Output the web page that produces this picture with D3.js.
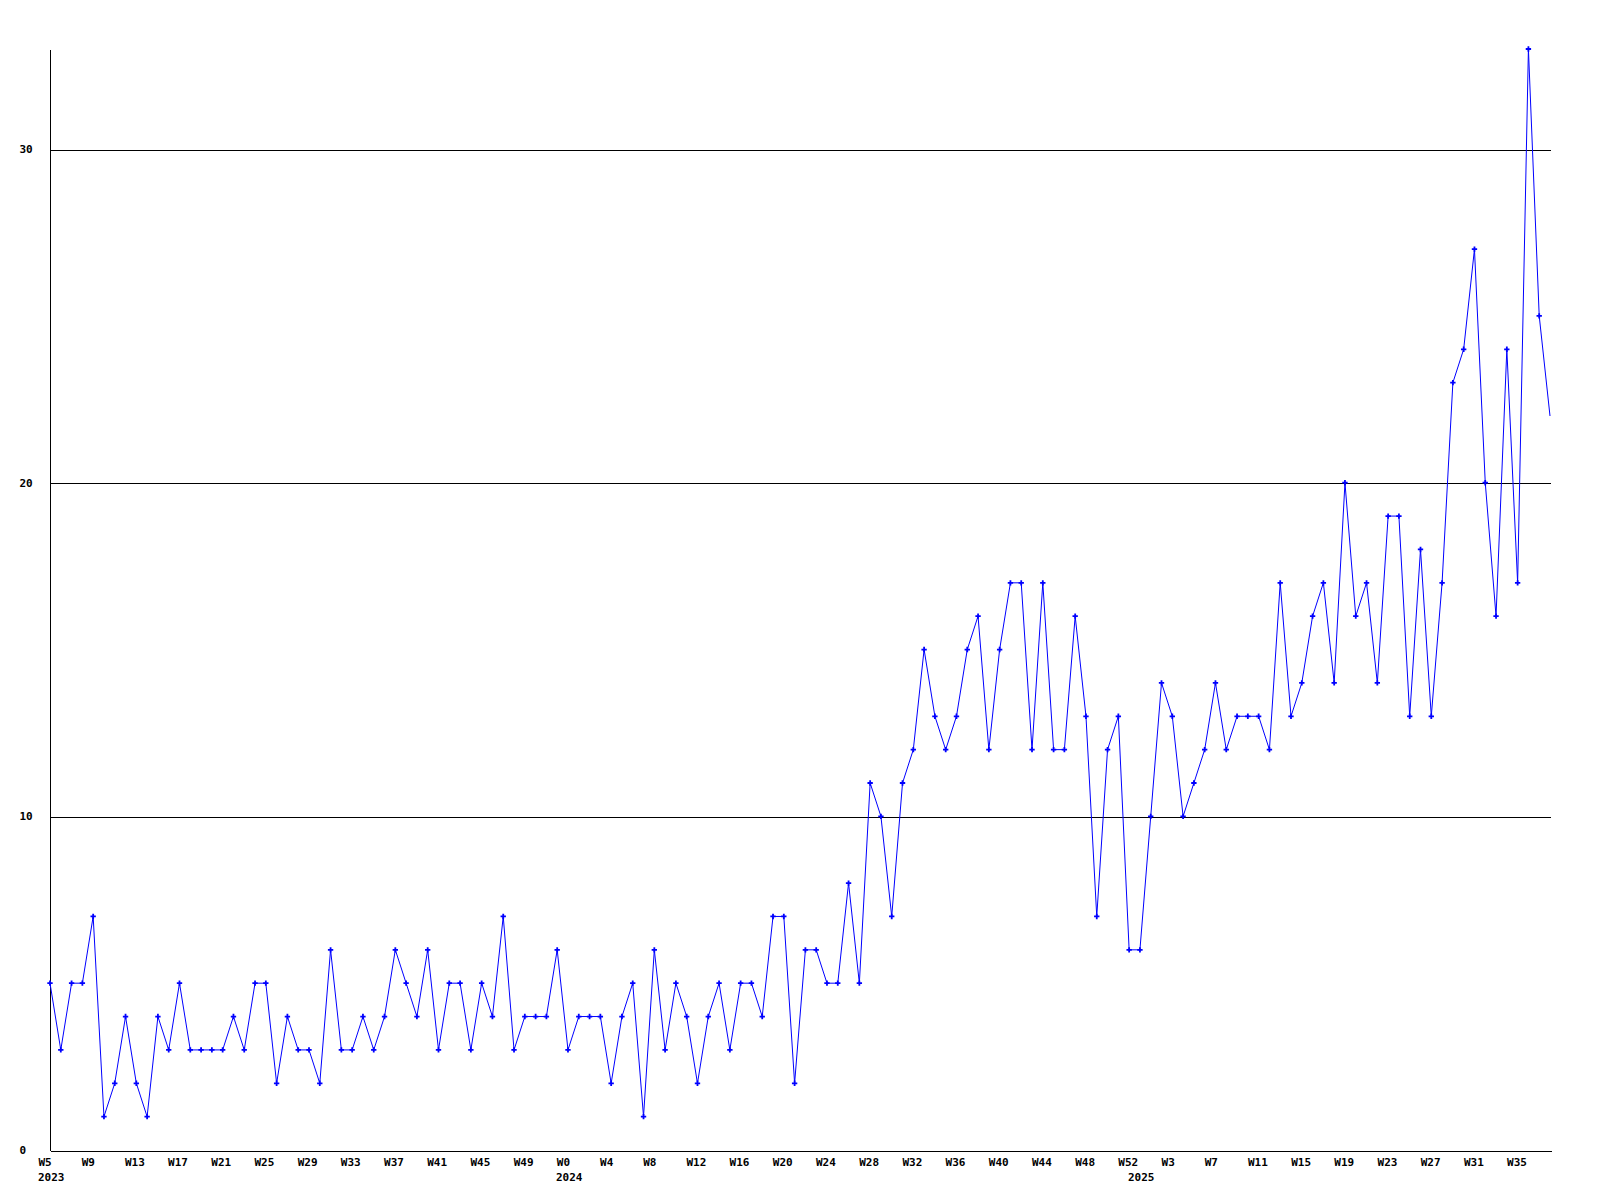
<!DOCTYPE html>
<html>
<head>
<meta charset="utf-8">
<script src="https://cdn.jsdelivr.net/npm/d3@7"></script>
<style>
body { margin: 0; background: #fff; }
svg text { font-family: "DejaVu Sans Mono", monospace; font-weight: bold; font-size: 11px; fill: #000; }
</style>
</head>
<body>
<svg width="1600" height="1200"></svg>
<script>
// week numbers for each year shown on the chart
var years = [2023, 2024, 2025];
var weeks2023 = d3.range(5, 53);
var weeks2024 = d3.range(0, 53);
var weeks2025 = d3.range(0, 39);

// weekly counts
var counts2023 = [5, 3, 5, 5, 7, 1, 2, 4, 2, 1, 4, 3, 5, 3, 3, 3, 3, 4, 3, 5, 5, 2, 4, 3, 3, 2, 6, 3, 3, 4, 3, 4, 6, 5, 4, 6, 3,
                  5, 5, 3, 5, 4, 7, 3, 4, 4, 4, 6];
var counts2024 = [3, 4, 4, 4, 2, 4, 5, 1, 6, 3, 5, 4, 2, 4, 5, 3, 5, 5, 4, 7, 7, 2, 6, 6,
                  5, 5, 8, 5, 11, 10, 7, 11, 12, 15, 13, 12, 13, 15, 16, 12, 15, 17, 17, 12, 17, 12, 12, 16, 13, 7, 12, 13,
                  6];
var counts2025 = [6, 10, 14, 13, 10, 11, 12, 14, 12, 13, 13, 13, 12, 17, 13,
                  14, 16, 17, 14, 20, 16, 17, 14, 19, 19, 13, 18, 13, 17, 23, 24, 27, 20, 16, 24, 17, 33, 25, 22];

var yTicks = [0, 10, 20, 30];
var gridTicks = [10, 20, 30];

var svg = d3.select("svg");
var plotLeft = 50, plotRight = 1550, plotTop = 49, plotBottom = 1150;

// flatten into one list of points
var data = [];
var yearStart = [];
[weeks2023, weeks2024, weeks2025].forEach(function (weeks, k) {
    var counts = [counts2023, counts2024, counts2025][k];
    yearStart.push({ year: years[k], index: data.length });
    weeks.forEach(function (w, i) {
        data.push({ year: years[k], week: w, value: counts[i] });
    });
});

var x = d3.scaleLinear().domain([0, data.length - 1]).range([plotLeft, plotRight]);
var y = d3.scaleLinear().domain([0, 33]).range([plotBottom, plotTop]);

// grid lines
svg.append("g")
    .attr("class", "grid")
    .attr("transform", "translate(" + (plotLeft - 0.5) + ",0.5)")
    .call(d3.axisLeft(y).tickValues(gridTicks).tickSize(-(plotRight - plotLeft + 1.5)).tickFormat(""))
    .call(function (g) { g.select(".domain").remove(); })
    .selectAll("line")
    .attr("stroke", "#000")
    .attr("shape-rendering", "crispEdges");

// y axis
var yAxis = svg.append("g")
    .attr("transform", "translate(" + (plotLeft - 0.5) + ",0)")
    .call(d3.axisLeft(y).tickValues(yTicks).tickSize(0).tickSizeOuter(0));
yAxis.select(".domain").attr("stroke", "#000").attr("shape-rendering", "crispEdges");
yAxis.selectAll("text")
    .attr("text-anchor", "start")
    .attr("x", 20 - plotLeft)
    .attr("font-family", null).attr("font-size", null);

// x axis
var xAxis = svg.append("g")
    .attr("transform", "translate(0," + (plotBottom + 0.5) + ")")
    .call(d3.axisBottom(x.copy().range([plotLeft, plotRight + 1]))
        .tickValues(d3.range(0, data.length, 4))
        .tickSize(0).tickSizeOuter(0).tickPadding(8)
        .tickFormat(function (i) { return "W" + data[i].week; }));
xAxis.select(".domain").attr("stroke", "#000").attr("shape-rendering", "crispEdges");
xAxis.selectAll("text")
    .attr("text-anchor", "start")
    .attr("dx", -12)
    .attr("font-family", null).attr("font-size", null);

// year labels under the first week of each year
svg.append("g")
    .selectAll("text")
    .data(yearStart)
    .enter().append("text")
    .attr("x", function (d) { return x(d.index) - 12; })
    .attr("y", plotBottom + 23)
    .attr("dy", "0.71em")
    .text(function (d) { return d.year; });

// series line
var line = d3.line()
    .x(function (d, i) { return x(i); })
    .y(function (d) { return y(d.value); });

svg.append("path")
    .datum(data)
    .attr("fill", "none")
    .attr("stroke", "#0000ff")
    .attr("stroke-width", 1)
    .attr("d", line);

// markers; the last point sits on the edge and has none
svg.append("g")
    .selectAll("path")
    .data(data.slice(0, -1))
    .enter().append("path")
    .attr("d", d3.symbol(d3.symbolCross, 16))
    .attr("fill", "#0000ff")
    .attr("transform", function (d, i) { return "translate(" + x(i) + "," + y(d.value) + ")"; });
</script>
</body>
</html>
